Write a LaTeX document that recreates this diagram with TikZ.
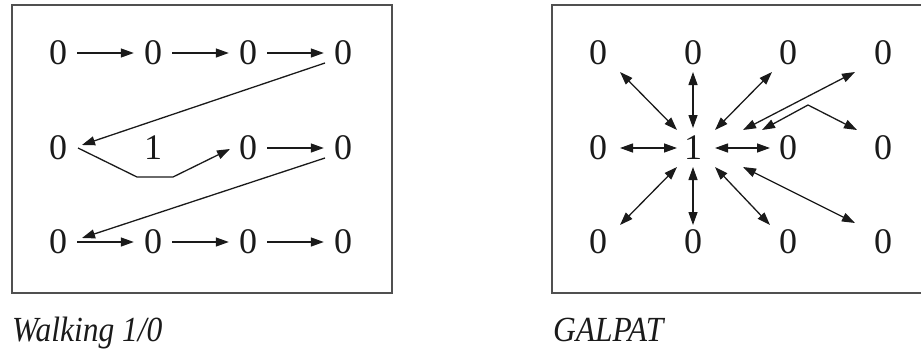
\documentclass[tikz,border=0pt]{standalone}
\usepackage{fontspec}
\setmainfont{Liberation Serif}
\usetikzlibrary{arrows.meta}
\definecolor{ink}{HTML}{1A1A1A}
\definecolor{frame}{HTML}{505050}
\tikzset{
  cell/.style={inner sep=0pt, minimum width=38pt, minimum height=40pt, text=ink,
    font=\fontsize{36pt}{36pt}\selectfont},
  arr/.style={draw=ink, line width=1.3pt, -{Triangle[length=13pt,width=9pt]}},
  dbl/.style={draw=ink, line width=1.3pt, {Triangle[length=13pt,width=9pt]}-{Triangle[length=13pt,width=9pt]}},
  panel/.style={draw=frame, line width=2pt},
  caption/.style={anchor=base west, inner sep=0pt, text=ink,
    font=\fontsize{31.5pt}{31.5pt}\selectfont\itshape}
}
\begin{document}
\begin{tikzpicture}[x=1pt,y=-1pt]
\useasboundingbox (0,0) rectangle (921,356);
% panels
\draw[panel] (12,5) rectangle (392,293);
\draw[panel] (927,5) -- (552,5) -- (552,293) -- (927,293);
% left grid
\foreach \r/\y in {0/53,1/148,2/242}{
  \foreach \c/\x in {0/58,1/153,2/248,3/343}{
    \ifnum\r=1 \ifnum\c=1
      \node[cell] (a\r\c) at (\x,\y) {1};
    \else
      \node[cell] (a\r\c) at (\x,\y) {0};
    \fi\else
      \node[cell] (a\r\c) at (\x,\y) {0};
    \fi
  }
}
% right grid
\foreach \r/\y in {0/53,1/148,2/242}{
  \foreach \c/\x in {0/598,1/693,2/788,3/883}{
    \ifnum\r=1 \ifnum\c=1
      \node[cell] (b\r\c) at (\x,\y) {1};
    \else
      \node[cell] (b\r\c) at (\x,\y) {0};
    \fi\else
      \node[cell] (b\r\c) at (\x,\y) {0};
    \fi
  }
}
% left arrows
\draw[arr] (a00) -- (a01);
\draw[arr] (a01) -- (a02);
\draw[arr] (a02) -- (a03);
\draw[arr] ([shift={(-18,10)}]a03.center) -- ([shift={(24,-3)}]a10.center);
\draw[arr] ([shift={(20,0)}]a10.center) -- ([shift={(-16,29)}]a11.center)
  -- ([shift={(20,29)}]a11.center) -- ([shift={(-18,1)}]a12.center);
\draw[arr] (a12) -- (a13);
\draw[arr] ([shift={(-18,10)}]a13.center) -- ([shift={(24,-4)}]a20.center);
\draw[arr] (a20) -- (a21);
\draw[arr] (a21) -- (a22);
\draw[arr] (a22) -- (a23);
% right arrows
\draw[dbl] ([shift={(-16,-18)}]b11.center) -- ([shift={(22,19)}]b00.center);
\draw[dbl] ([shift={(0,-20)}]b11.center) -- ([shift={(0,19)}]b01.center);
\draw[dbl] ([shift={(22,-18)}]b11.center) -- ([shift={(-16,19)}]b02.center);
\draw[dbl] ([shift={(-16,0)}]b11.center) -- ([shift={(22,0)}]b10.center);
\draw[dbl] ([shift={(22,0)}]b11.center) -- ([shift={(-18,0)}]b12.center);
\draw[dbl] ([shift={(-16,19)}]b11.center) -- ([shift={(22,-17)}]b20.center);
\draw[dbl] ([shift={(0,19)}]b11.center) -- ([shift={(0,-17)}]b21.center);
\draw[dbl] ([shift={(22,19)}]b11.center) -- ([shift={(-18,-17)}]b22.center);
\draw[dbl] ([shift={(50,19)}]b11.center) -- ([shift={(-28,-19)}]b23.center);
\draw[dbl] ([shift={(50,-18)}]b11.center) -- ([shift={(-28,19)}]b03.center);
\draw[dbl] ([shift={(-26,-18)}]b12.center) -- ([shift={(20,-43)}]b12.center)
  -- ([shift={(-26,-18)}]b13.center);
% captions
\node[caption] (capL) at (12,341) {\scalebox{1}[1.12]{Walking 1/0}};
\node[caption] (capR) at (553,341) {\scalebox{1}[1.12]{GALPAT}};
\end{tikzpicture}
\end{document}
